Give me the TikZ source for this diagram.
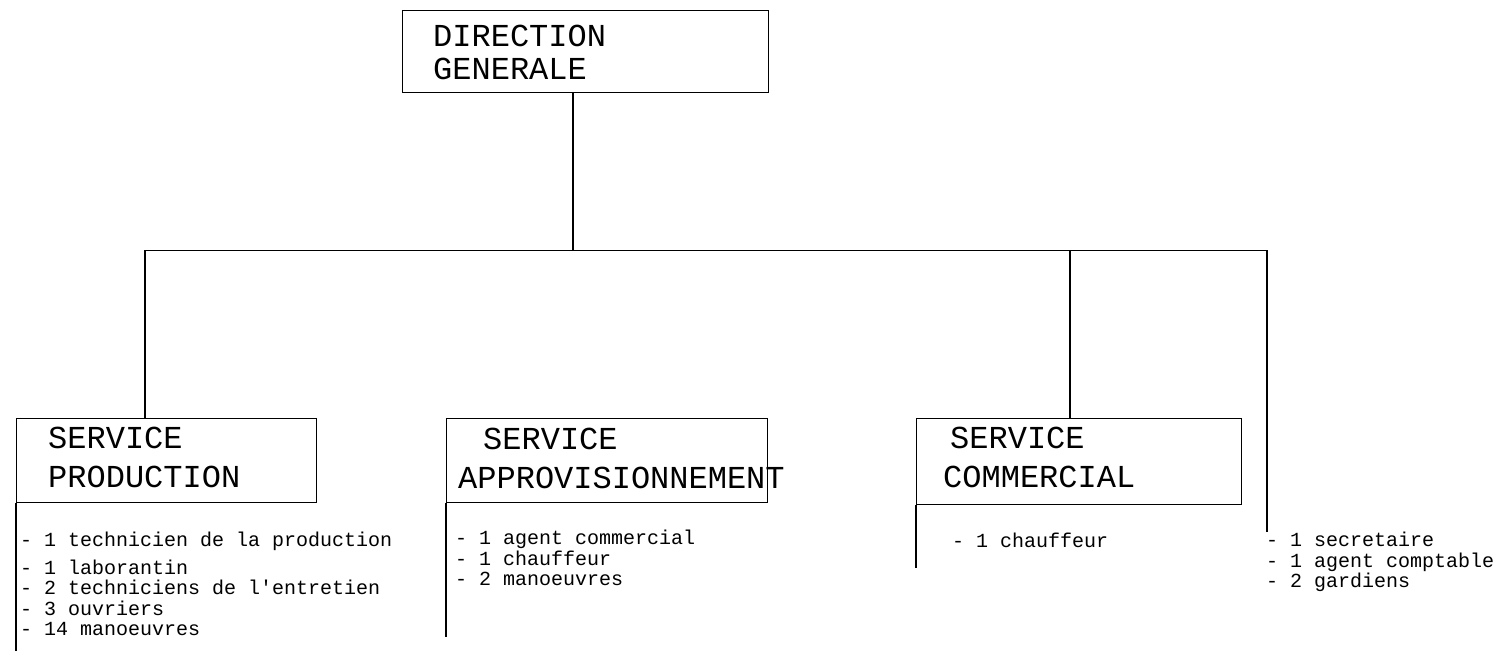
\documentclass[tikz,border=0pt]{standalone}
\usepackage{fontspec}
\newfontfamily\orgfont{Liberation Mono}

\tikzset{
  unit/.style={draw, line width=1.1pt, anchor=north west, inner sep=0pt},
  head/.style={anchor=north west, inner sep=0pt, align=left,
    font=\orgfont\fontsize{32}{39}\selectfont},
  staff/.style={anchor=north west, inner sep=0pt, align=left,
    font=\orgfont\fontsize{20}{20.5}\selectfont},
  link/.style={line width=1.3pt},
  bus/.style={line width=0.8pt}
}

\begin{document}
\begin{tikzpicture}[x=1pt,y=-1pt]
  \useasboundingbox (0,0) rectangle (1509,651);

  % boxes
  \node (dg) at (402,10) [unit, minimum width=366pt, minimum height=82pt] {};
  \node (prod) at (16,418) [unit, minimum width=300pt, minimum height=84pt] {};
  \node (appro) at (446,418) [unit, minimum width=321pt, minimum height=84pt] {};
  \node (comm) at (916,418) [unit, minimum width=325pt, minimum height=86pt] {};

  % titles
  \node (dgtxt) at (433,25) [head] {DIRECTION\\[-6pt]GENERALE};
  \node (prodtxt) at (48,427) [head] {SERVICE\\PRODUCTION};
  \node (approtxt) at (458,428) [head] {\hspace*{25pt}SERVICE\\APPROVISIONNEMENT};
  \node (commtxt) at (943,427) [head] {\hspace*{7pt}SERVICE\\COMMERCIAL};

  % staff lists
  \node (prodlist) at (20,532) [staff] {- 1 technicien de la production\\[7pt]
    - 1 laborantin\\- 2 techniciens de l'entretien\\- 3 ouvriers\\- 14 manoeuvres};
  \node (approlist) at (455,530) [staff] {- 1 agent commercial\\- 1 chauffeur\\- 2 manoeuvres};
  \node (commlist) at (952,533) [staff] {- 1 chauffeur};
  \node (adminlist) at (1266,532) [staff] {- 1 secretaire\\- 1 agent comptable\\- 2 gardiens};

  % connectors
  \coordinate (hub) at (573,250);
  \coordinate (busl) at (145,250);
  \coordinate (busm) at (1070,250);
  \coordinate (busr) at (1267,250);
  \coordinate (adminend) at (1267,532);
  \coordinate (prodend) at (16,651);
  \coordinate (approend) at (446,637);
  \coordinate (commend) at (916,568);

  \draw[link] (hub |- dg.south) -- (hub);
  \draw[bus] (busl) -- (busr);
  \draw[link] (busl) -- (busl |- prod.north);
  \draw[link] (busm) -- (busm |- comm.north);
  \draw[link] (busr) -- (adminend);
  \draw[link] (prod.south west) -- (prodend);
  \draw[link] (appro.south west) -- (approend);
  \draw[link] (comm.south west) -- (commend);
\end{tikzpicture}
\end{document}
